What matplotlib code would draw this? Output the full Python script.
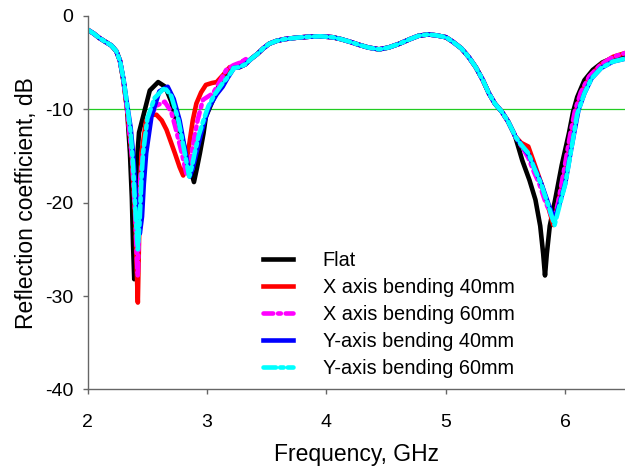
import matplotlib

matplotlib.use("Agg")
import matplotlib.pyplot as plt

plt.rcParams["font.family"] = ["Liberation Sans", "DejaVu Sans"]
plt.rcParams["lines.scale_dashes"] = False
plt.rcParams["axes.unicode_minus"] = False

# --- data (frequency in GHz, reflection in dB) ---
start_f = [2.00, 2.05, 2.10, 2.15, 2.20, 2.24, 2.27]
start_db = [-1.5, -1.9, -2.4, -2.8, -3.2, -3.8, -4.8]

mid_f = [3.22, 3.27, 3.32, 3.37, 3.42, 3.47, 3.52, 3.58, 3.65, 3.75, 3.85, 3.95,
         4.05, 4.12, 4.20, 4.27, 4.35, 4.44, 4.52, 4.61, 4.70, 4.77, 4.85, 4.92,
         5.00, 5.06, 5.13, 5.19, 5.25, 5.31, 5.36, 5.41, 5.47, 5.52, 5.57]
mid_db = [-5.6, -5.5, -5.2, -4.6, -4.1, -3.5, -3.0, -2.7, -2.5, -2.35, -2.25, -2.2,
          -2.3, -2.5, -2.8, -3.1, -3.4, -3.6, -3.4, -3.0, -2.5, -2.15, -2.0, -2.1,
          -2.3, -2.8, -3.5, -4.4, -5.5, -6.9, -8.3, -9.4, -10.3, -11.3, -12.6]

flat_left_f = [2.30, 2.33, 2.354, 2.37, 2.38, 2.39, 2.40, 2.41, 2.43, 2.464, 2.52,
               2.59, 2.65, 2.70, 2.74, 2.79, 2.826, 2.86, 2.89, 2.915, 2.94, 2.97,
               2.99, 3.05, 3.10, 3.16]
flat_left_db = [-7.0, -10.0, -14.7, -19.5, -24.5, -28.2, -24.0, -16.0, -12.5, -10.8,
                -8.0, -7.1, -7.6, -9.2, -11.2, -13.2, -14.7, -16.4, -17.8, -16.3,
                -14.7, -12.6, -10.8, -9.0, -7.4, -6.2]
flat_right_f = [5.58, 5.64, 5.70, 5.75, 5.79, 5.815, 5.83, 5.845, 5.87, 5.915, 5.97,
                6.03, 6.065, 6.10, 6.16, 6.23, 6.31, 6.40, 6.50]
flat_right_db = [-12.9, -15.5, -17.6, -19.7, -22.5, -25.5, -27.8, -25.5, -22.5, -19.7,
                 -16.0, -12.6, -10.3, -8.7, -6.9, -5.8, -5.0, -4.5, -4.1]

x40_left_f = [2.30, 2.33, 2.37, 2.40, 2.41, 2.42, 2.43, 2.45, 2.49, 2.534, 2.576,
              2.62, 2.66, 2.73, 2.77, 2.80, 2.84, 2.88, 2.91, 2.95, 2.99, 3.04, 3.08,
              3.13, 3.19]
x40_left_db = [-7.0, -10.0, -15.0, -22.0, -27.0, -30.7, -24.0, -14.7, -11.2, -10.6,
               -10.6, -11.2, -12.2, -14.7, -16.2, -17.1, -14.7, -11.2, -9.4, -8.2,
               -7.4, -7.2, -7.1, -6.4, -5.5]
x40_right_f = [5.58, 5.63, 5.69, 5.74, 5.80, 5.86, 5.90, 5.94, 6.00, 6.05, 6.09,
               6.14, 6.21, 6.30, 6.40, 6.50]
x40_right_db = [-12.9, -13.6, -14.0, -15.8, -18.0, -20.6, -22.4, -20.0, -16.8, -13.0,
                -10.2, -8.1, -6.4, -5.2, -4.4, -4.0]

x60_left_f = [2.30, 2.33, 2.37, 2.40, 2.41, 2.42, 2.43, 2.44, 2.464, 2.52, 2.58,
              2.645, 2.70, 2.74, 2.79, 2.83, 2.86, 2.88, 2.92, 2.965, 3.05, 3.10,
              3.16, 3.22, 3.28, 3.33]
x60_left_db = [-7.0, -10.0, -15.0, -21.5, -25.5, -27.9, -22.5, -17.5, -14.7, -10.8,
               -9.6, -9.2, -10.3, -12.2, -14.8, -17.1, -15.5, -14.0, -11.2, -9.0,
               -8.3, -7.2, -5.8, -5.3, -5.0, -4.6]
x60_right_f = [5.58, 5.63, 5.69, 5.74, 5.78, 5.83, 5.87, 5.905, 5.94, 5.99, 6.04,
               6.08, 6.13, 6.20, 6.30, 6.40, 6.50]
x60_right_db = [-12.9, -13.9, -15.2, -16.8, -17.9, -19.8, -21.0, -21.9, -20.0, -16.5,
                -12.8, -10.2, -8.2, -6.5, -5.2, -4.4, -4.0]

y40_left_f = [2.30, 2.33, 2.36, 2.38, 2.40, 2.42, 2.437, 2.455, 2.47, 2.49, 2.534,
              2.60, 2.67, 2.72, 2.77, 2.82, 2.855, 2.88, 2.91, 2.95, 2.98, 3.02,
              3.08, 3.13, 3.17, 3.215]
y40_left_db = [-6.8, -9.5, -12.0, -14.7, -18.5, -22.0, -23.3, -21.5, -18.0, -14.7,
               -10.8, -8.1, -7.6, -8.9, -11.2, -14.7, -17.2, -16.3, -14.7, -12.6,
               -11.2, -9.7, -8.4, -7.6, -6.7, -5.8]
y40_right_f = [5.58, 5.63, 5.69, 5.74, 5.80, 5.86, 5.91, 5.95, 6.00, 6.05, 6.11,
               6.16, 6.22, 6.30, 6.40, 6.50]
y40_right_db = [-12.9, -13.8, -14.8, -16.2, -18.0, -20.2, -21.8, -20.2, -17.9, -14.2,
                -10.1, -8.3, -6.7, -5.6, -4.9, -4.6]

y60_left_f = [2.30, 2.33, 2.36, 2.38, 2.40, 2.42, 2.435, 2.45, 2.464, 2.50, 2.56,
              2.645, 2.70, 2.76, 2.81, 2.85, 2.875, 2.896, 2.93, 2.97, 3.01, 3.06,
              3.12, 3.17, 3.215]
y60_left_db = [-6.8, -9.5, -12.5, -16.0, -21.0, -25.0, -22.0, -17.5, -14.7, -11.0,
               -8.8, -7.7, -8.6, -11.2, -14.5, -17.2, -16.0, -14.7, -12.8, -11.2,
               -9.7, -8.5, -7.4, -6.6, -5.8]
y60_right_f = [5.58, 5.63, 5.69, 5.74, 5.80, 5.86, 5.91, 5.95, 6.00, 6.05, 6.10,
               6.16, 6.22, 6.30, 6.40, 6.50]
y60_right_db = [-12.9, -13.8, -14.7, -16.3, -18.1, -20.4, -22.4, -20.4, -18.0, -14.3,
                -10.5, -8.3, -6.7, -5.6, -4.9, -4.6]

labels = ["Flat", "X axis bending 40mm", "X axis bending 60mm",
          "Y-axis bending 40mm", "Y-axis bending 60mm"]
left_parts = [(flat_left_f, flat_left_db), (x40_left_f, x40_left_db),
              (x60_left_f, x60_left_db), (y40_left_f, y40_left_db),
              (y60_left_f, y60_left_db)]
right_parts = [(flat_right_f, flat_right_db), (x40_right_f, x40_right_db),
               (x60_right_f, x60_right_db), (y40_right_f, y40_right_db),
               (y60_right_f, y60_right_db)]

colors = ["black", "#ff0000", "#ff00ff", "#0000ff", "#00ffff"]
styles = ["-", "-", (0, (7, 3.5, 2, 3.5)), "-", (0, (9, 3, 2.5, 3))]

fig = plt.figure(figsize=(6.25, 4.67), dpi=100)
ax = fig.add_axes([0.1403, 0.166, 0.8597, 0.8003])

ax.axhline(-10, color="#22cc22", lw=0.9, zorder=1)

for (lf, ldb), (rf, rdb), lab, c, ls in zip(left_parts, right_parts, labels, colors, styles):
    f = start_f + lf + mid_f + rf
    db = start_db + ldb + mid_db + rdb
    ax.plot(f, db, color=c, lw=3.3, ls=ls, label=lab, solid_joinstyle="round",
            dash_capstyle="round", zorder=2)

ax.set_xlim(2, 6.5)
ax.set_ylim(-40, 0)
ax.set_xticks([2, 3, 4, 5, 6])
ax.set_yticks([0, -10, -20, -30, -40])

for side in ("top", "right"):
    ax.spines[side].set_visible(False)
for side in ("left", "bottom"):
    ax.spines[side].set_color("#666666")
    ax.spines[side].set_linewidth(1.0)
ax.tick_params(direction="out", length=3.5, width=1.0, color="#666666",
               labelsize=14, labelcolor="black")
ax.tick_params(axis="y", pad=7)
ax.tick_params(axis="x", pad=14)

ax.set_xlabel("Frequency, GHz", fontsize=16.5, labelpad=9)
ax.set_ylabel("Reflection coefficient, dB", fontsize=16.5, labelpad=5)

ax.legend(loc="upper left", bbox_to_anchor=(0.4208, 0.462), bbox_transform=fig.transFigure,
          frameon=False, fontsize=14.3, handlelength=1.5, handletextpad=1.5,
          labelspacing=0.4, borderpad=0, borderaxespad=0)

fig.savefig("out.png", dpi=100)
